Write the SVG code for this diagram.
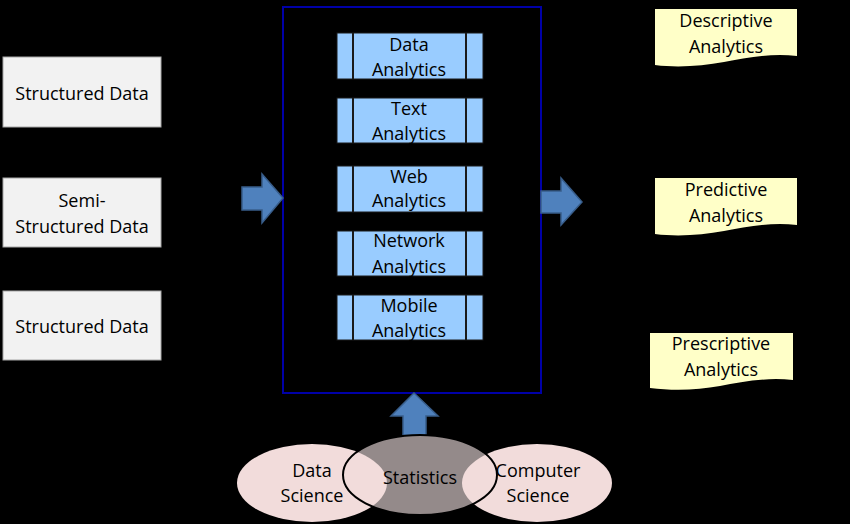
<svg xmlns="http://www.w3.org/2000/svg" width="850" height="524" viewBox="0 0 850 524">
<style>
text{font-family:"Open Sans","Noto Sans","DejaVu Sans",sans-serif;font-size:18px;fill:#000;text-anchor:middle}
.src{fill:#f2f2f2;stroke:#a6a6a6;stroke-width:1}
.proc{fill:#99ccff;stroke:#1a1a1a;stroke-width:1}
.div{stroke:#1a1a1a;stroke-width:2}
.doc{fill:#ffffc8}
.arrow{fill:#4f81bd;stroke:#385d8a;stroke-width:1.5}
.oval{fill:#f2dcdb}
</style>
<rect width="850" height="524" fill="#000"/>
<g id="src1"><rect class="src" x="3" y="57" width="158" height="70"/><text x="82" y="100">Structured Data</text></g>
<g id="src2"><rect class="src" x="3" y="178" width="158" height="69"/><text x="82" y="207">Semi-</text><text x="82" y="233">Structured Data</text></g>
<g id="src3"><rect class="src" x="3" y="291" width="158" height="69"/><text x="82" y="333">Structured Data</text></g>
<g id="platform"><rect x="283" y="7" width="258" height="386" fill="none" stroke="#0000a8" stroke-width="2"/></g>
<g id="p1"><rect class="proc" x="337" y="33" width="146" height="46"/><line class="div" x1="353" y1="33" x2="353" y2="79"/><line class="div" x1="466" y1="33" x2="466" y2="79"/><text x="409" y="51">Data</text><text x="409" y="76">Analytics</text></g>
<g id="p2"><rect class="proc" x="337" y="98" width="146" height="45"/><line class="div" x1="353" y1="98" x2="353" y2="143"/><line class="div" x1="466" y1="98" x2="466" y2="143"/><text x="409" y="115">Text</text><text x="409" y="140">Analytics</text></g>
<g id="p3"><rect class="proc" x="337" y="166" width="146" height="46"/><line class="div" x1="353" y1="166" x2="353" y2="212"/><line class="div" x1="466" y1="166" x2="466" y2="212"/><text x="409" y="183">Web</text><text x="409" y="207">Analytics</text></g>
<g id="p4"><rect class="proc" x="337" y="231" width="146" height="45"/><line class="div" x1="353" y1="231" x2="353" y2="276"/><line class="div" x1="466" y1="231" x2="466" y2="276"/><text x="409" y="247">Network</text><text x="409" y="273">Analytics</text></g>
<g id="p5"><rect class="proc" x="337" y="295" width="146" height="45"/><line class="div" x1="353" y1="295" x2="353" y2="340"/><line class="div" x1="466" y1="295" x2="466" y2="340"/><text x="409" y="312">Mobile</text><text x="409" y="337">Analytics</text></g>
<g id="out1"><path class="doc" d="M655,9 H797 V56 C770,53 745,58 724,62 C702,66 678,68 655,65 Z"/><text x="726" y="27">Descriptive</text><text x="726" y="53">Analytics</text></g>
<g id="out2"><path class="doc" d="M655,178 H797 V225 C770,222 745,227 724,231 C702,235 678,237 655,234 Z"/><text x="726" y="196">Predictive</text><text x="726" y="222">Analytics</text></g>
<g id="out3"><path class="doc" d="M650,333 H793 V380 C766,377 741,382 720,386 C698,390 674,391 650,388 Z"/><text x="721" y="350">Prescriptive</text><text x="721" y="376">Analytics</text></g>
<g id="connectors">
<path class="arrow" d="M242,187 H262 V174 L283,198 L262,223 V210 H242 Z"/>
<path class="arrow" d="M541,191 H561 V178 L582,202 L561,225 V213 H541 Z"/>
<path class="arrow" d="M403,445 V416 H391 L414,393 L438,416 H426 V445 Z"/>
</g>
<g id="disciplines">
<ellipse cx="420" cy="475" rx="77" ry="40" fill="#948a8a"/>
<ellipse class="oval" cx="312" cy="483" rx="75" ry="39"/>
<ellipse class="oval" cx="537" cy="483" rx="75" ry="39"/>
<ellipse cx="420" cy="475" rx="77" ry="40" fill="none" stroke="#000" stroke-width="2"/>
<text x="312" y="477">Data</text><text x="312" y="502">Science</text>
<text x="420" y="484">Statistics</text>
<text x="538" y="477">Computer</text><text x="538" y="502">Science</text>
</g>
</svg>
